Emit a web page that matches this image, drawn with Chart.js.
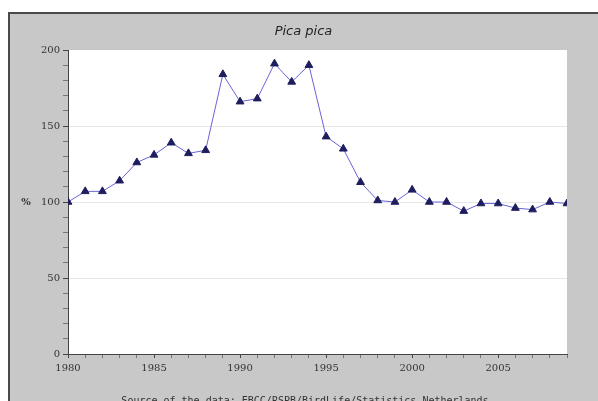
<!DOCTYPE html>
<html>
<head>
<meta charset="utf-8">
<script src="https://cdn.jsdelivr.net/npm/chart.js@4.4.1/dist/chart.umd.min.js"></script>
<style>
  html, body { margin: 0; padding: 0; background: #fff; }
  #wrap { width: 598px; height: 401px; }
</style>
</head>
<body>
<div id="wrap"><canvas id="chart" width="598" height="401"></canvas></div>
<script>
var years = [1980, 1981, 1982, 1983, 1984, 1985, 1986, 1987, 1988, 1989,
             1990, 1991, 1992, 1993, 1994, 1995, 1996, 1997, 1998, 1999,
             2000, 2001, 2002, 2003, 2004, 2005, 2006, 2007, 2008, 2009];
var index = [100, 107, 107, 114, 126, 131, 139, 132, 134, 184,
             166, 168, 191, 179, 190, 143, 135, 113, 101, 100,
             108, 100, 100, 94, 99, 99, 96, 95, 100, 99];
var yMajor = [0, 50, 100, 150, 200];
var xMajor = [1980, 1985, 1990, 1995, 2000, 2005];
var yUnit = '%';
var sourceText = 'Source of the data: EBCC/RSPB/BirdLife/Statistics Netherlands';

var frame = {
  id: 'frame',
  beforeDraw: function (chart) {
    var c = chart.ctx, a = chart.chartArea;
    c.save();
    c.fillStyle = '#ffffff';
    c.fillRect(0, 0, chart.width, chart.height);
    c.fillStyle = '#c8c8c8';
    c.fillRect(9, 14, chart.width - 9, chart.height - 14);
    c.fillStyle = '#4a4a4a';
    c.fillRect(8, 12, chart.width - 8, 2);
    c.fillRect(8, 12, 2, chart.height - 12);
    c.fillStyle = '#ffffff';
    c.fillRect(a.left, a.top, a.right - a.left, a.bottom - a.top);
    c.restore();
  },
  afterDraw: function (chart) {
    var c = chart.ctx;
    c.save();
    c.fillStyle = '#333333';
    c.textBaseline = 'middle';
    // unit label beside the 100 tick
    c.font = 'bold 10px "DejaVu Serif"';
    c.textAlign = 'center';
    c.fillText(yUnit, 26, chart.scales.y.getPixelForValue(100));
    // data source line, cut by the bottom edge
    c.font = '10px "DejaVu Sans Mono"';
    c.fillText(sourceText, 305, 401);
    c.restore();
  }
};

var points = years.map(function (y, i) { return { x: y, y: index[i] }; });

new Chart(document.getElementById('chart'), {
  type: 'line',
  data: {
    datasets: [{
      label: 'Pica pica',
      data: points,
      borderColor: '#6a64d8',
      borderWidth: 1,
      pointStyle: 'triangle',
      pointRadius: 4.5,
      pointBackgroundColor: '#1e1e5e',
      pointBorderColor: '#1e1e5e',
      pointBorderWidth: 1,
      tension: 0
    }]
  },
  options: {
    responsive: false,
    animation: false,
    devicePixelRatio: 1,
    layout: { padding: { left: 40, right: 31, top: 14, bottom: 0 } },
    plugins: {
      legend: { display: false },
      tooltip: { enabled: false },
      title: {
        display: true,
        text: 'Pica pica',
        color: '#222222',
        font: { family: 'DejaVu Sans', size: 13, style: 'italic', weight: 'normal' },
        padding: { top: 10, bottom: 10.4 }
      }
    },
    scales: {
      x: {
        type: 'linear',
        min: 1980,
        max: 2009,
        afterFit: function (s) { s.height = 47; },
        border: { color: '#444444', width: 1 },
        grid: {
          drawOnChartArea: false,
          tickLength: 4,
          tickColor: function (ctx) { return xMajor.indexOf(ctx.tick.value) >= 0 ? '#444444' : '#777777'; }
        },
        ticks: {
          stepSize: 1,
          autoSkip: false,
          maxRotation: 0,
          padding: 4,
          color: '#333333',
          font: { family: 'DejaVu Serif', size: 10 },
          callback: function (v) { return xMajor.indexOf(v) >= 0 ? String(v) : ''; }
        }
      },
      y: {
        min: 0,
        max: 200,
        afterFit: function (s) { s.width = 28; },
        border: { color: '#444444', width: 1 },
        grid: {
          tickLength: 5,
          color: function (ctx) {
            var v = ctx.tick.value;
            return (v === 50 || v === 100 || v === 150) ? '#e6e6e6' : 'rgba(0,0,0,0)';
          },
          tickColor: function (ctx) { return yMajor.indexOf(ctx.tick.value) >= 0 ? '#444444' : '#777777'; }
        },
        ticks: {
          stepSize: 10,
          autoSkip: false,
          padding: 3,
          color: '#333333',
          font: { family: 'DejaVu Serif', size: 10 },
          callback: function (v) { return yMajor.indexOf(v) >= 0 ? String(v) : ''; }
        }
      }
    }
  },
  plugins: [frame]
});
</script>
</body>
</html>
